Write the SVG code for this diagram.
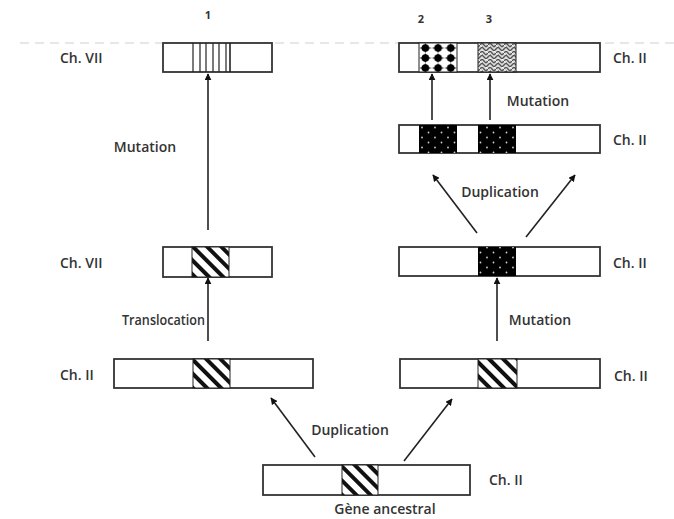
<svg xmlns="http://www.w3.org/2000/svg" width="674" height="519" viewBox="0 0 674 519">
<style>
  .box{fill:#fff;stroke:#333;stroke-width:1.8}
  .seg{stroke:#222;stroke-width:1.2}
  .lbl{font-family:"Open Sans","Liberation Sans",sans-serif;font-size:14px;fill:#333;font-weight:600}
  .num{font-family:"Open Sans","Liberation Sans",sans-serif;font-size:11px;fill:#333;font-weight:700}
  .arr{stroke:#222;stroke-width:1.6;fill:none;marker-end:url(#ah)}
</style>
<defs>
  <marker id="ah" viewBox="0 0 10 10" refX="9" refY="5" markerWidth="7" markerHeight="7" orient="auto" markerUnits="userSpaceOnUse">
    <path d="M0,0 L10,5 L0,10 z" fill="#111"/>
  </marker>
  <pattern id="hatch" patternUnits="userSpaceOnUse" width="10" height="10" patternTransform="rotate(-45)">
    <rect width="10" height="10" fill="#fff"/>
    <rect x="0" y="0" width="4" height="10" fill="#111"/>
  </pattern>
  <pattern id="dots" patternUnits="userSpaceOnUse" width="13" height="10" x="419" y="125">
    <rect width="13" height="10" fill="#000"/>
    <circle cx="3" cy="2.5" r="0.9" fill="#ccc"/>
    <circle cx="9.5" cy="7.5" r="0.9" fill="#ccc"/>
  </pattern>
  <pattern id="diam" patternUnits="userSpaceOnUse" width="12.7" height="10" x="419" y="43">
    <rect width="12.7" height="10" fill="#fff"/>
    <circle cx="6.35" cy="5" r="3.8" fill="#000"/>
    <path d="M6.35,0 L8.5,5 L6.35,10 L4.2,5 z" fill="#000"/>
    <path d="M0,5 L6.35,3.6 L12.7,5 L6.35,6.4 z" fill="#000"/>
  </pattern>
  <pattern id="zig" patternUnits="userSpaceOnUse" width="8" height="8" x="478" y="43">
    <rect width="8" height="8" fill="#ddd"/>
    <path d="M0,4 L4,0 L8,4 M0,8 L4,4 L8,8" stroke="#555" stroke-width="1.4" fill="none"/>
    <path d="M0,0 L4,4" stroke="#fff" stroke-width="0.8" fill="none"/>
  </pattern>
</defs>

<line x1="20" y1="43" x2="674" y2="43" stroke="#c9d1dc" stroke-width="1.2" stroke-dasharray="9,6"/>

<g id="labels-num">
  <text class="num" x="208" y="19" text-anchor="middle">1</text>
  <text class="num" x="421" y="23" text-anchor="middle">2</text>
  <text class="num" x="489" y="23" text-anchor="middle">3</text>
</g>

<g id="chVII-top">
  <rect class="box" x="163" y="43" width="109" height="29"/>
  <g class="seg">
    <line x1="193" y1="43" x2="193" y2="72"/>
    <line x1="200" y1="43" x2="200" y2="72"/>
    <line x1="206" y1="43" x2="206" y2="72"/>
    <line x1="213" y1="43" x2="213" y2="72"/>
    <line x1="219" y1="43" x2="219" y2="72"/>
    <line x1="226" y1="43" x2="226" y2="72"/>
    <line x1="230" y1="43" x2="230" y2="72" stroke-width="1.6"/>
  </g>
  <text class="lbl" x="60" y="63">Ch. VII</text>
</g>

<g id="chII-top">
  <rect class="box" x="399" y="43" width="201" height="29"/>
  <rect x="419" y="43" width="38" height="29" fill="url(#diam)" stroke="#222" stroke-width="1"/>
  <rect x="478" y="43" width="38" height="29" fill="url(#zig)" stroke="#222" stroke-width="1"/>
  <text class="lbl" x="613" y="63">Ch. II</text>
</g>

<g id="chII-dup">
  <rect class="box" x="399" y="125" width="201" height="28"/>
  <rect x="419" y="125" width="38" height="28" fill="url(#dots)"/>
  <rect x="478" y="125" width="38" height="28" fill="url(#dots)"/>
  <text class="lbl" x="613" y="145">Ch. II</text>
</g>

<g id="chVII-mid">
  <rect class="box" x="163" y="247" width="109" height="30"/>
  <rect x="192" y="247" width="37" height="30" fill="url(#hatch)" stroke="#222" stroke-width="1"/>
  <text class="lbl" x="60" y="268">Ch. VII</text>
</g>

<g id="chII-mut">
  <rect class="box" x="399" y="247" width="201" height="29"/>
  <rect x="478" y="247" width="38" height="29" fill="url(#dots)"/>
  <text class="lbl" x="613" y="268">Ch. II</text>
</g>

<g id="chII-left">
  <rect class="box" x="114" y="359" width="199" height="29"/>
  <rect x="193" y="359" width="37" height="29" fill="url(#hatch)" stroke="#222" stroke-width="1"/>
  <text class="lbl" x="60" y="380">Ch. II</text>
</g>

<g id="chII-right">
  <rect class="box" x="400" y="359" width="200" height="29"/>
  <rect x="478" y="359" width="39" height="29" fill="url(#hatch)" stroke="#222" stroke-width="1"/>
  <text class="lbl" x="614" y="381">Ch. II</text>
</g>

<g id="ancestral">
  <rect class="box" x="263" y="465" width="207" height="30"/>
  <rect x="342" y="465" width="36" height="30" fill="url(#hatch)" stroke="#222" stroke-width="1"/>
  <text class="lbl" x="489" y="485">Ch. II</text>
  <text class="lbl" x="385" y="514" text-anchor="middle">Gène ancestral</text>
</g>

<g id="connectors">
  <line class="arr" x1="315" y1="457" x2="271" y2="398"/>
  <line class="arr" x1="404" y1="461" x2="452" y2="399"/>
  <line class="arr" x1="208" y1="341" x2="208" y2="278"/>
  <line class="arr" x1="208" y1="230" x2="208" y2="74"/>
  <line class="arr" x1="497" y1="341" x2="497" y2="278"/>
  <line class="arr" x1="477" y1="233" x2="433" y2="175"/>
  <line class="arr" x1="526" y1="237" x2="575" y2="175"/>
  <line class="arr" x1="432" y1="120" x2="432" y2="74"/>
  <line class="arr" x1="490" y1="120" x2="490" y2="74"/>
</g>

<g id="edge-labels">
  <text class="lbl" x="350" y="435" text-anchor="middle">Duplication</text>
  <text class="lbl" x="122" y="325" textLength="83" lengthAdjust="spacingAndGlyphs">Translocation</text>
  <text class="lbl" x="145" y="152" text-anchor="middle">Mutation</text>
  <text class="lbl" x="540" y="325" text-anchor="middle">Mutation</text>
  <text class="lbl" x="500" y="197" text-anchor="middle">Duplication</text>
  <text class="lbl" x="538" y="106" text-anchor="middle">Mutation</text>
</g>
</svg>
